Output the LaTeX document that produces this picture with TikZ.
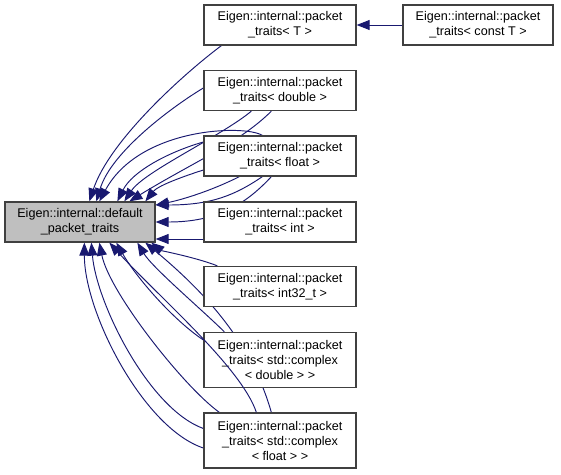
\documentclass[tikz,border=0pt]{standalone}
\usepackage{fontspec}
\setmainfont{Liberation Sans}
\usepackage{tikz}
\usetikzlibrary{arrows.meta,backgrounds}
\definecolor{edgeblue}{RGB}{25,25,112}
\definecolor{basegray}{RGB}{191,191,191}
\tikzset{
  classbox/.style={draw=black!75, line width=1.3pt, fill=white, minimum width=152pt, minimum height=40pt, inner sep=0pt, align=center, font=\fontsize{12.6}{15}\selectfont},
  basebox/.style={classbox, fill=basegray, minimum width=150pt},
  tallbox/.style={classbox, minimum height=55pt},
  inherit/.style={-{Triangle[length=13pt, width=10pt]}, draw=edgeblue, line width=0.95pt}
}

\begin{document}
\begin{tikzpicture}[x=1pt, y=-1pt]
  \useasboundingbox (0,0) rectangle (561,474);
  \node[basebox] (dflt) at (80,222) {Eigen::internal::default\\\_packet\_traits};
  \node[classbox] (pT) at (280,25) {Eigen::internal::packet\\\_traits< T >};
  \node[classbox, minimum width=150pt] (pCT) at (478,25) {Eigen::internal::packet\\\_traits< const T >};
  \node[classbox] (pDbl) at (280,90.5) {Eigen::internal::packet\\\_traits< double >};
  \node[classbox] (pFlt) at (280,156) {Eigen::internal::packet\\\_traits< float >};
  \node[classbox] (pInt) at (280,222) {Eigen::internal::packet\\\_traits< int >};
  \node[classbox] (pI32) at (280,286.5) {Eigen::internal::packet\\\_traits< int32\_t >};
  \node[tallbox] (pCDbl) at (280,360) {Eigen::internal::packet\\\_traits< std::complex\\< double > >};
  \node[tallbox] (pCFlt) at (280,440.5) {Eigen::internal::packet\\\_traits< std::complex\\< float > >};
  % edges run behind the boxes
  \begin{pgfonlayer}{background}
    \draw[inherit] ([xshift=18pt]pT.south west) .. controls +(-40,30) and +(20,-60) .. ([xshift=85pt]dflt.north west);
    \draw[inherit] ([yshift=2.5pt]pDbl.west) .. controls +(-30,18) and +(15,-50) .. ([xshift=92pt]dflt.north west);
    \draw[inherit] ([xshift=48pt]pDbl.south west) .. controls +(-30,25) and +(20,-30) .. ([xshift=120pt]dflt.north west);
    \draw[inherit] ([xshift=68pt]pDbl.south west) .. controls +(-32,32) and +(60,-37) .. ([xshift=125pt]dflt.north west);
    \draw[inherit] ([xshift=59pt]pFlt.north west) .. controls +(-18,-11) and +(40,-74) .. ([xshift=95pt]dflt.north west);
    \draw[inherit] ([yshift=14pt]pFlt.west) .. controls +(-35,10) and +(15,-30) .. ([xshift=113pt]dflt.north west);
    \draw[inherit] ([yshift=-14pt]pFlt.west) .. controls +(-25,8) and +(12,-15) .. ([xshift=141pt]dflt.north west);
    \draw[inherit] ([xshift=36pt]pFlt.south west) .. controls +(-30,15) and +(25,-5) .. ([yshift=17pt]dflt.east);
    \draw[inherit] ([xshift=59pt]pFlt.south west) .. controls +(-28,19) and +(55,0) .. ([yshift=17pt]dflt.east);
    \draw[inherit] ([xshift=68pt]pFlt.south west) .. controls +(-27,29) and +(60,0) .. (dflt.east);
    \draw[inherit] ([yshift=-17pt]pInt.west) -- ([yshift=-17pt]dflt.east);
    \draw[inherit] ([xshift=14pt]pI32.north west) .. controls +(-20,-8) and +(10,8) .. ([xshift=147pt]dflt.south west);
    \draw[inherit] ([xshift=21pt]pCDbl.north west) .. controls +(-20,-20) and +(15,25) .. ([xshift=133pt]dflt.south west);
    \draw[inherit] ([yshift=20pt]pCDbl.west) .. controls +(-30,-20) and +(20,35) .. ([xshift=112pt]dflt.south west);
    \draw[inherit] ([xshift=68pt]pCFlt.north west) .. controls +(-20,-70) and +(60,50) .. ([xshift=141pt]dflt.south west);
    \draw[inherit] ([xshift=16pt]pCFlt.north west) .. controls +(-35,-25) and +(10,50) .. ([xshift=95pt]dflt.south west);
    \draw[inherit] ([yshift=12pt]pCFlt.west) .. controls +(-55,-20) and +(5,60) .. ([xshift=87pt]dflt.south west);
    \draw[inherit] ([yshift=-7.5pt]pCFlt.west) .. controls +(-60,-20) and +(0,70) .. ([xshift=80pt]dflt.south west);
  \end{pgfonlayer}
  \draw[inherit] ([xshift=53pt]pCFlt.north west) .. controls +(-15,-45) and +(50,55) .. ([xshift=105pt]dflt.south west);
  \draw[inherit] (pCT) -- (pT);
\end{tikzpicture}
\end{document}
